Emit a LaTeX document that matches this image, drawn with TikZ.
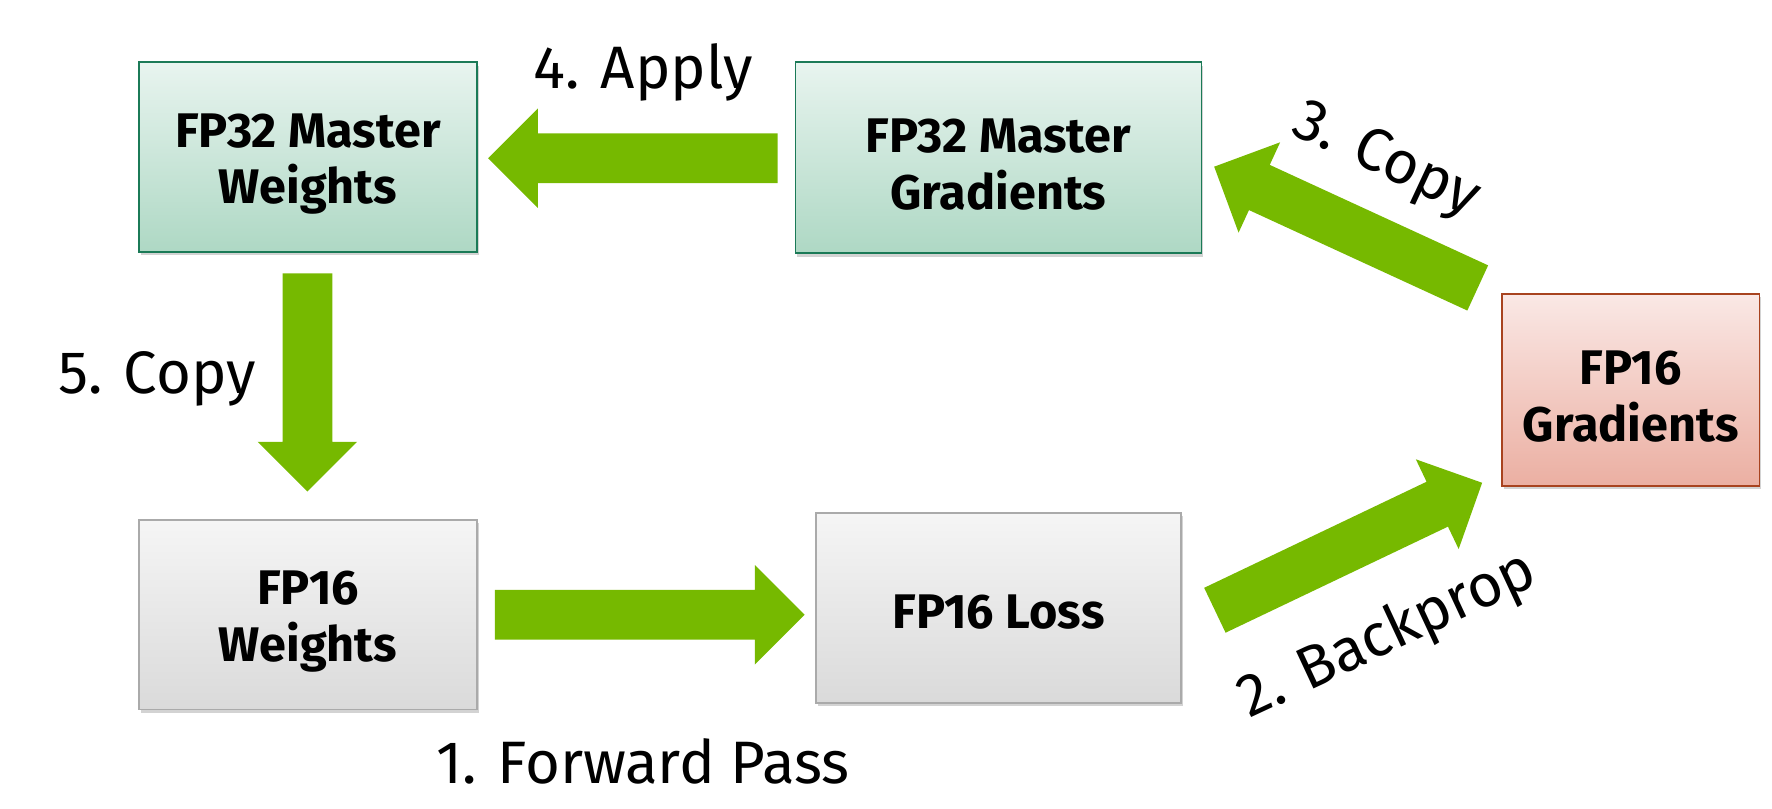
\documentclass[tikz,border=0pt]{standalone}
\usepackage{fontspec}
\setmainfont{Fira Sans}
\usetikzlibrary{calc,shadows}
\definecolor{arrowgreen}{HTML}{76B900}
\definecolor{gtop}{HTML}{E8F4EF}
\definecolor{gbot}{HTML}{AED8C4}
\definecolor{gline}{HTML}{1B7A57}
\definecolor{rtop}{HTML}{FAE8E5}
\definecolor{rbot}{HTML}{EBAFA2}
\definecolor{rline}{HTML}{A8431F}
\definecolor{ytop}{HTML}{F5F5F5}
\definecolor{ybot}{HTML}{DADADA}
\definecolor{yline}{HTML}{AAAAAA}
\newcommand{\greenarrow}[2]{%
  \coordinate (tmpH) at ($(#2)!44pt!(#1)$);
  \fill[arrowgreen] ($(#1)!22pt!90:(#2)$) -- ($(tmpH)!22pt!90:(#2)$) -- ($(tmpH)!44pt!90:(#2)$) -- (#2)
    -- ($(tmpH)!44pt!-90:(#2)$) -- ($(tmpH)!22pt!-90:(#2)$) -- ($(#1)!22pt!-90:(#2)$) -- cycle;}
\tikzset{
  boxbase/.style={rectangle, inner sep=0pt, line width=1.3pt,
    drop shadow={shadow xshift=1.5pt, shadow yshift=-3pt, opacity=0.35}},
  boxtext/.style={font=\fontsize{43}{50}\selectfont\bfseries, align=center, inner sep=0pt, yshift=-6pt},
  greenbox/.style={boxbase, draw=gline, top color=gtop, bottom color=gbot},
  redbox/.style={boxbase, draw=rline, top color=rtop, bottom color=rbot},
  graybox/.style={boxbase, draw=yline, top color=ytop, bottom color=ybot},
  steplabel/.style={font=\fontsize{53}{58}\selectfont, inner sep=0pt},
}
\begin{document}
\begin{tikzpicture}[x=1pt,y=-1pt]
\useasboundingbox (0,0) rectangle (1568,715);
% boxes
\node[greenbox, minimum width=299pt, minimum height=168pt,
  label={[boxtext]center:FP32 Master\\Weights}] (w32) at (272.5,139) {};
\node[greenbox, minimum width=359pt, minimum height=169pt,
  label={[boxtext]center:FP32 Master\\Gradients}] (g32) at (883.5,139.5) {};
\node[redbox, minimum width=228pt, minimum height=170pt,
  label={[boxtext]center:FP16\\Gradients}] (g16) at (1443,345) {};
\node[graybox, minimum width=299pt, minimum height=168pt,
  label={[boxtext]center:FP16\\Weights}] (w16) at (272.5,544) {};
\node[graybox, minimum width=323pt, minimum height=168pt,
  label={[boxtext, yshift=2pt]center:FP16 Loss}] (loss) at (883.5,538) {};
% arrow end points
\coordinate (a4s) at (688,140);   \coordinate (a4e) at (432,140);
\coordinate (a5s) at (272,242);   \coordinate (a5e) at (272,435);
\coordinate (a1s) at (438,544);   \coordinate (a1e) at (712,544);
\coordinate (a2s) at (1075,540);  \coordinate (a2e) at (1311.5,427.2);
\coordinate (a3s) at (1307.6,254.8); \coordinate (a3e) at (1074.4,147.5);
\greenarrow{a4s}{a4e}
\greenarrow{a5s}{a5e}
\greenarrow{a1s}{a1e}
\greenarrow{a2s}{a2e}
\greenarrow{a3s}{a3e}
% labels
\node[steplabel, anchor=base] (l4) at (569,78) {4. Apply};
\node[steplabel, anchor=base] (l5) at (139,348) {5. Copy};
\node[steplabel, anchor=base] (l1) at (569,693) {1. Forward Pass};
\node[steplabel, rotate=25] (l2) at (1228,563) {2. Backprop};
\node[steplabel, rotate=-25] (l3) at (1226,143) {3. Copy};
\end{tikzpicture}
\end{document}
